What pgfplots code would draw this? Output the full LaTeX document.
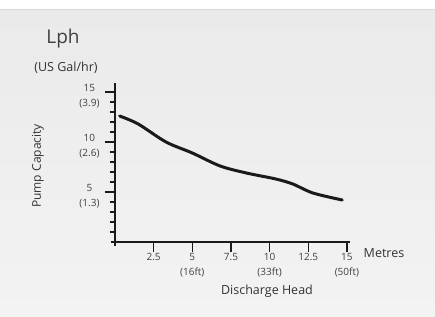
\documentclass[border=0pt]{standalone}
\usepackage{pgfplots}
\pgfplotsset{compat=1.18}
\usepackage{fontspec}
\setmainfont{Open Sans}
\definecolor{bgtop}{HTML}{EAEAEA}
\definecolor{bgbot}{HTML}{F3F3F3}
\definecolor{ink}{HTML}{1A1A1A}
\newcommand\tl{\fontsize{10}{15}\selectfont}
\begin{document}
\begin{tikzpicture}[x=1pt,y=1pt]
\path[use as bounding box] (0,0) rectangle (435,316);
\fill[white] (0,306) rectangle (435,316);
\shade[top color=bgtop,bottom color=bgbot] (0,0) rectangle (435,306);
\draw[color=black!15,line width=1pt] (0,306) -- (435,306);
\begin{axis}[
  at={(115pt,74pt)}, anchor=south west,
  scale only axis, width=235pt, height=159pt,
  xmin=0, xmax=15.2, ymin=0, ymax=15.9,
  axis lines*=left, axis line style={-, line width=2pt, color=ink, shorten <=-4pt},
  tick align=outside,
  xtick={2.5,5,7.5,10,12.5,15},
  xticklabels={{\tl 2.5},{\tl 5\\\tl (16ft)},{\tl 7.5},{\tl 10\\\tl (33ft)},{\tl 12.5},{\tl 15\\\tl (50ft)}},
  ytick={5,10,15},
  yticklabels={{\tl 5\\\tl (1.3)},{\tl 10\\\tl (2.6)},{\tl 15\\\tl (3.9)}},
  minor ytick={1,2,3,4,6,7,8,9,11,12,13,14},
  major tick length=10pt, minor tick length=5pt,
  every tick/.style={line width=1.4pt, color=ink},
  xticklabel style={align=center, font=\tl, text=black!75, yshift=2pt},
  yticklabel style={align=center, font=\tl, text=black!75, xshift=-2pt, yshift=-4pt},
  clip=false,
]
\addplot[line width=3pt, color=ink, smooth, line cap=round] coordinates {
  (0.3,12.6) (1.5,11.8) (3.3,10.0) (5.0,8.9) (6.8,7.6) (8.5,6.9) (10.4,6.3) (11.5,5.8) (12.8,4.9) (14.7,4.2)
};
\end{axis}
\node[font=\fontsize{12.5}{14}\selectfont, text=black!80] at (384,63) {Metres};
\node[font=\fontsize{12.5}{14}\selectfont, text=black!80] at (267,25) {Discharge Head};
\node[font=\fontsize{12}{14}\selectfont, text=black!80, rotate=90] at (38,150) {Pump Capacity};
\node[font=\fontsize{19}{22}\selectfont, text=black!75] at (63,277) {Lph};
\node[font=\fontsize{12.5}{14}\selectfont, text=black!80] at (66,248) {(US Gal/hr)};
\end{tikzpicture}
\end{document}
